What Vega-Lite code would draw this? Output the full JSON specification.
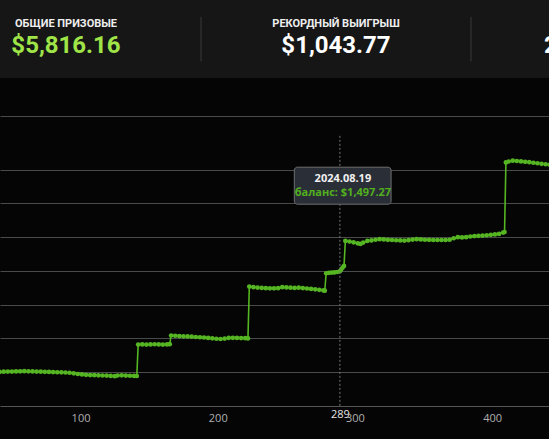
{
  "$schema": "https://vega.github.io/schema/vega-lite/v6.json",
  "background": "#050505",
  "padding": {"left": 0, "right": 0, "top": 0, "bottom": 16},
  "spacing": 38,
  "config": {
    "view": {"stroke": null},
    "font": "Open Sans"
  },
  "vconcat": [
    {
      "width": 549,
      "height": 78,
      "view": {"fill": "#161616", "stroke": null},
      "data": {"values": [
        {"col": 0, "label": "ОБЩИЕ ПРИЗОВЫЕ", "value": "$5,816.16", "accent": "green"},
        {"col": 1, "label": "РЕКОРДНЫЙ ВЫИГРЫШ", "value": "$1,043.77", "accent": "white"},
        {"col": 2, "label": "ПОСЛЕДНЯЯ ИГРА", "value": "2024.11.02", "accent": "white"}
      ]},
      "layer": [
        {
          "mark": {"type": "text", "font": "Roboto", "fontWeight": "bold", "fontSize": 11, "color": "#eeeeee", "align": "center", "baseline": "middle"},
          "encoding": {
            "x": {"field": "col", "type": "quantitative", "scale": {"domain": [-0.2444, 1.7889], "nice": false, "zero": false}, "axis": null},
            "y": {"datum": 1, "type": "quantitative", "scale": {"domain": [-0.097, 3.497], "reverse": true, "nice": false, "zero": false}, "axis": null},
            "text": {"field": "label"}
          }
        },
        {
          "mark": {"type": "text", "font": "Roboto", "fontWeight": "bold", "fontSize": 24, "align": "center", "baseline": "middle"},
          "encoding": {
            "x": {"field": "col", "type": "quantitative"},
            "y": {"datum": 2, "type": "quantitative"},
            "text": {"field": "value"},
            "color": {"field": "accent", "type": "nominal", "scale": {"domain": ["green", "white"], "range": ["#9fe548", "#ffffff"]}, "legend": null}
          }
        },
        {
          "data": {"values": [{"sep": 0.5}, {"sep": 1.5}]},
          "mark": {"type": "rule", "color": "#3a3a3a", "strokeWidth": 1},
          "encoding": {
            "x": {"field": "sep", "type": "quantitative"},
            "y": {"datum": 0.68, "type": "quantitative"},
            "y2": {"datum": 2.73}
          }
        }
      ]
    },
    {
      "width": 549,
      "height": 290,
      "data": {"values": [
        {"game": 38, "balance": 754}, {"game": 41, "balance": 753}, {"game": 44, "balance": 754}, {"game": 47, "balance": 755},
        {"game": 50, "balance": 755}, {"game": 53, "balance": 756}, {"game": 56, "balance": 757}, {"game": 59, "balance": 758},
        {"game": 62, "balance": 757}, {"game": 65, "balance": 756}, {"game": 68, "balance": 755}, {"game": 71, "balance": 754},
        {"game": 74, "balance": 753}, {"game": 77, "balance": 752}, {"game": 80, "balance": 751}, {"game": 83, "balance": 750},
        {"game": 86, "balance": 749}, {"game": 89, "balance": 748}, {"game": 92, "balance": 746}, {"game": 95, "balance": 742},
        {"game": 98, "balance": 737}, {"game": 101, "balance": 734}, {"game": 104, "balance": 731}, {"game": 107, "balance": 729},
        {"game": 110, "balance": 728}, {"game": 113, "balance": 727}, {"game": 116, "balance": 726}, {"game": 119, "balance": 725},
        {"game": 122, "balance": 723}, {"game": 125, "balance": 721}, {"game": 127, "balance": 726}, {"game": 130, "balance": 727},
        {"game": 133, "balance": 725}, {"game": 136, "balance": 724}, {"game": 139, "balance": 723}, {"game": 141, "balance": 722},
        {"game": 142, "balance": 955}, {"game": 145, "balance": 956}, {"game": 148, "balance": 955}, {"game": 151, "balance": 956},
        {"game": 154, "balance": 957}, {"game": 157, "balance": 956}, {"game": 160, "balance": 955}, {"game": 163, "balance": 956},
        {"game": 165, "balance": 958},
        {"game": 166, "balance": 1022}, {"game": 169, "balance": 1020}, {"game": 172, "balance": 1018}, {"game": 175, "balance": 1016},
        {"game": 178, "balance": 1015}, {"game": 181, "balance": 1013}, {"game": 184, "balance": 1011}, {"game": 187, "balance": 1009},
        {"game": 190, "balance": 1007}, {"game": 193, "balance": 1004}, {"game": 196, "balance": 1001}, {"game": 199, "balance": 998},
        {"game": 202, "balance": 996}, {"game": 205, "balance": 999}, {"game": 208, "balance": 1004}, {"game": 211, "balance": 1005},
        {"game": 214, "balance": 1004}, {"game": 217, "balance": 1003}, {"game": 220, "balance": 1002}, {"game": 222, "balance": 1000},
        {"game": 223, "balance": 1384}, {"game": 226, "balance": 1380}, {"game": 229, "balance": 1377}, {"game": 232, "balance": 1374},
        {"game": 235, "balance": 1372}, {"game": 238, "balance": 1371}, {"game": 241, "balance": 1371}, {"game": 244, "balance": 1372},
        {"game": 247, "balance": 1380}, {"game": 250, "balance": 1378}, {"game": 253, "balance": 1376}, {"game": 256, "balance": 1374},
        {"game": 259, "balance": 1376}, {"game": 262, "balance": 1373}, {"game": 265, "balance": 1370}, {"game": 268, "balance": 1367},
        {"game": 271, "balance": 1364}, {"game": 274, "balance": 1360}, {"game": 277, "balance": 1356}, {"game": 278, "balance": 1354},
        {"game": 279, "balance": 1483}, {"game": 281, "balance": 1486}, {"game": 283, "balance": 1488}, {"game": 285, "balance": 1489},
        {"game": 287, "balance": 1492}, {"game": 289, "balance": 1497.27}, {"game": 290, "balance": 1512}, {"game": 291, "balance": 1525},
        {"game": 292, "balance": 1537},
        {"game": 293, "balance": 1722}, {"game": 296, "balance": 1718}, {"game": 299, "balance": 1712}, {"game": 302, "balance": 1704},
        {"game": 304, "balance": 1700}, {"game": 306, "balance": 1710}, {"game": 309, "balance": 1722}, {"game": 312, "balance": 1726},
        {"game": 315, "balance": 1731}, {"game": 318, "balance": 1735}, {"game": 321, "balance": 1733}, {"game": 324, "balance": 1730},
        {"game": 327, "balance": 1729}, {"game": 330, "balance": 1727}, {"game": 333, "balance": 1726}, {"game": 336, "balance": 1725},
        {"game": 339, "balance": 1728}, {"game": 342, "balance": 1732}, {"game": 345, "balance": 1735}, {"game": 348, "balance": 1733},
        {"game": 351, "balance": 1731}, {"game": 354, "balance": 1730}, {"game": 357, "balance": 1729}, {"game": 360, "balance": 1729},
        {"game": 363, "balance": 1729}, {"game": 366, "balance": 1729}, {"game": 369, "balance": 1731}, {"game": 372, "balance": 1742},
        {"game": 375, "balance": 1750}, {"game": 378, "balance": 1748}, {"game": 381, "balance": 1750}, {"game": 384, "balance": 1755},
        {"game": 387, "balance": 1758}, {"game": 390, "balance": 1760}, {"game": 393, "balance": 1762}, {"game": 396, "balance": 1764},
        {"game": 399, "balance": 1767}, {"game": 402, "balance": 1770}, {"game": 405, "balance": 1774}, {"game": 408, "balance": 1784},
        {"game": 409, "balance": 1788},
        {"game": 410, "balance": 2303}, {"game": 412, "balance": 2310}, {"game": 415, "balance": 2316}, {"game": 418, "balance": 2314},
        {"game": 421, "balance": 2311}, {"game": 424, "balance": 2308}, {"game": 427, "balance": 2305}, {"game": 430, "balance": 2301},
        {"game": 433, "balance": 2297}, {"game": 436, "balance": 2293}, {"game": 439, "balance": 2290}, {"game": 442, "balance": 2286},
        {"game": 445, "balance": 2283}
      ]},
      "layer": [
        {
          "mark": {"type": "line", "color": "#55b522", "strokeWidth": 1.6, "clip": true},
          "encoding": {
            "x": {
              "field": "game", "type": "quantitative",
              "scale": {"domain": [41.3, 441.4], "nice": false, "zero": false},
              "axis": {
                "title": null,
                "values": [100, 200, 289, 300, 400],
                "labelOverlap": false,
                "labelFontSize": 11,
                "labelFont": "Open Sans",
                "labelColor": {"condition": {"test": "datum.value === 289", "value": "#e8e8e8"}, "value": "#b0b0b0"},
                "labelPadding": {"condition": {"test": "datum.value === 289", "value": 2}, "value": 6},
                "ticks": false,
                "grid": false,
                "domainColor": "#555555",
                "domainWidth": 1
              }
            },
            "y": {
              "field": "balance", "type": "quantitative",
              "scale": {"domain": [500, 2647], "nice": false, "zero": false},
              "axis": {
                "title": null,
                "values": [750, 1000, 1250, 1500, 1750, 2000, 2250, 2647],
                "labels": false,
                "ticks": false,
                "domain": false,
                "grid": true,
                "gridColor": "#4a4a4a",
                "gridWidth": 1,
                "minExtent": 0,
                "maxExtent": 0
              }
            }
          }
        },
        {
          "mark": {"type": "point", "filled": true, "color": "#55b522", "size": 22, "opacity": 1, "clip": true},
          "encoding": {
            "x": {"field": "game", "type": "quantitative"},
            "y": {"field": "balance", "type": "quantitative"}
          }
        },
        {
          "data": {"values": [{"game": 289, "top": 2500, "bottom": 500}]},
          "mark": {"type": "rule", "color": "#777777", "strokeWidth": 1, "strokeDash": [2, 2]},
          "encoding": {
            "x": {"field": "game", "type": "quantitative"},
            "y": {"field": "top", "type": "quantitative"},
            "y2": {"field": "bottom"}
          }
        },
        {
          "data": {"values": [{"x1": 255.8, "x2": 326.3, "y1": 1994, "y2": 2268}]},
          "mark": {"type": "rect", "fill": "#2a2e37", "stroke": "#6e6e6e", "strokeWidth": 1, "cornerRadius": 3},
          "encoding": {
            "x": {"field": "x1", "type": "quantitative"},
            "x2": {"field": "x2"},
            "y": {"field": "y1", "type": "quantitative"},
            "y2": {"field": "y2"}
          }
        },
        {
          "data": {"values": [
            {"game": 291.2, "balance": 2179, "txt": "2024.08.19", "kind": "date"},
            {"game": 291.2, "balance": 2078, "txt": "баланс: $1,497.27", "kind": "bal"}
          ]},
          "mark": {"type": "text", "fontSize": 11, "fontWeight": "bold", "font": "Open Sans", "align": "center", "baseline": "middle"},
          "encoding": {
            "x": {"field": "game", "type": "quantitative"},
            "y": {"field": "balance", "type": "quantitative"},
            "text": {"field": "txt"},
            "color": {"field": "kind", "type": "nominal", "scale": {"domain": ["date", "bal"], "range": ["#f0f0f0", "#52b01e"]}, "legend": null}
          }
        }
      ],
      "resolve": {"scale": {"color": "independent"}}
    }
  ],
  "resolve": {"scale": {"color": "independent"}}
}
